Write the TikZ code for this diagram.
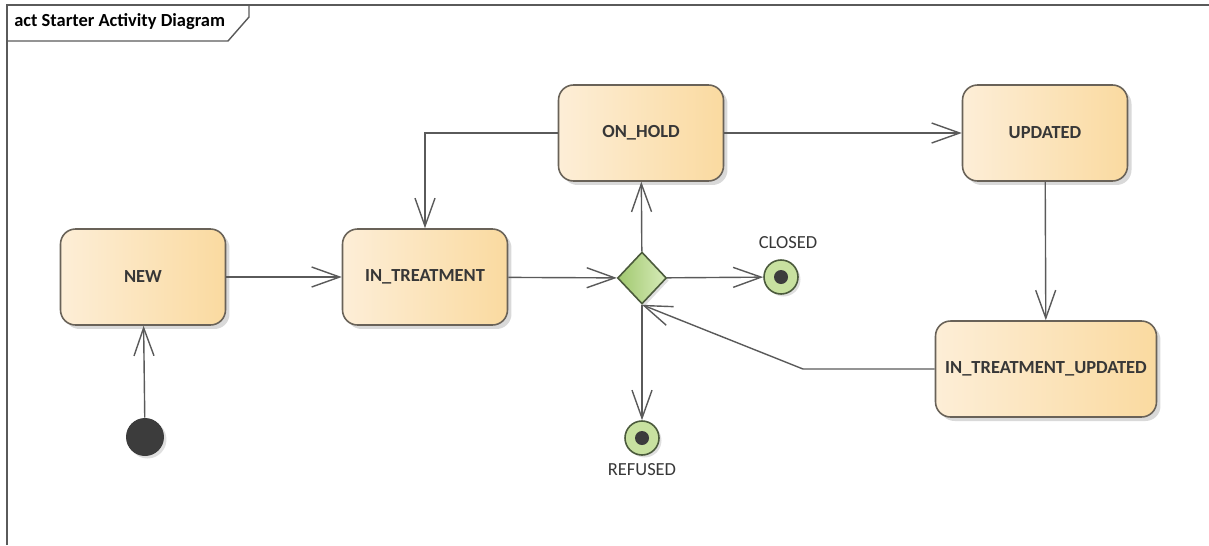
\documentclass[tikz,border=0pt]{standalone}
\usepackage{fontspec}
\setmainfont{Carlito}
\usetikzlibrary{arrows.meta,shapes.geometric,shadows}
\definecolor{linegray}{RGB}{90,90,90}
\definecolor{stateline}{RGB}{105,98,88}
\definecolor{stateleft}{RGB}{253,238,215}
\definecolor{stateright}{RGB}{250,218,160}
\definecolor{decleft}{RGB}{160,200,110}
\definecolor{decright}{RGB}{215,235,185}
\definecolor{decline}{RGB}{75,90,60}
\definecolor{finalfill}{RGB}{200,225,160}
\definecolor{dotgray}{RGB}{60,60,60}
\definecolor{labeltext}{RGB}{55,55,55}

\begin{document}
\begin{tikzpicture}[x=0.02cm,y=-0.02cm,
    statebox/.style={draw=stateline, line width=0.9pt, rounded corners=0.3cm,
        left color=stateleft, right color=stateright,
        minimum width=3.3cm, minimum height=1.92cm, inner sep=0pt,
        font=\bfseries\fontsize{10.5}{12}\selectfont, text=labeltext,
        drop shadow={shadow xshift=0.08cm, shadow yshift=-0.08cm, opacity=0.3}},
    decision/.style={diamond, draw=decline, line width=0.9pt,
        left color=decleft, right color=decright,
        minimum width=0.98cm, minimum height=1.04cm, inner sep=0pt,
        drop shadow={shadow xshift=0.05cm, shadow yshift=-0.05cm, opacity=0.25}},
    finalnode/.style={circle, draw=decline, line width=0.9pt, fill=finalfill,
        minimum size=0.68cm, inner sep=0pt,
        path picture={\fill[dotgray] (path picture bounding box.center) circle (0.14cm);},
        drop shadow={shadow xshift=0.05cm, shadow yshift=-0.05cm, opacity=0.25}},
    initnode/.style={circle, fill=dotgray, minimum size=0.76cm, inner sep=0pt,
        drop shadow={shadow xshift=0.05cm, shadow yshift=-0.05cm, opacity=0.25}},
    smalltext/.style={font=\fontsize{10.5}{12}\selectfont, text=labeltext, inner sep=0pt},
    flow/.style={draw=linegray, line width=0.8pt,
        -{Straight Barb[length=0.56cm, width=0.4cm]}}]
        \useasboundingbox (0,0) rectangle (1209,545);

        % 框架
        \draw[linegray, line width=1.1pt] (7,545) -- (7,5) -- (1209,5);
        \draw[linegray, line width=0.8pt] (7,41) -- (228,41) -- (249,17) -- (249,5);
        \node[anchor=west, font=\bfseries\fontsize{10.5}{12}\selectfont, text=black, inner sep=0pt] (title) at (14,22) {act Starter Activity Diagram};

        % 状态
        \node[statebox] (new) at (143,277) {NEW};
        \node[statebox] (intreat) at (425,277) {IN\_TREATMENT};
        \node[statebox] (onhold) at (641,133) {ON\_HOLD};
        \node[statebox] (updated) at (1045,133) {UPDATED};
        \node[statebox, minimum width=4.42cm] (intreatupd) at (1046,369) {IN\_TREATMENT\_UPDATED};

        % 判断、起点、终点
        \node[decision] (dec) at (642,278) {};
        \node[initnode] (start) at (145,437) {};
        \node[finalnode] (closed) at (781,277) {};
        \node[finalnode] (refused) at (642,438) {};
        \node[smalltext] (closedlabel) at (788,243) {CLOSED};
        \node[smalltext] (refusedlabel) at (642,470) {REFUSED};

        % 转移
        \coordinate (bend) at (803,369);
        \draw[flow] (start) -- (new);
        \draw[flow] (new) -- (intreat);
        \draw[flow] (intreat) -- (dec);
        \draw[flow] (dec) -- (onhold);
        \draw[flow] (onhold.west) -| (intreat.north);
        \draw[flow] (onhold) -- (updated);
        \draw[flow] (updated) -- (intreatupd);
        \draw[flow] (intreatupd.west) -- (bend) -- (dec.south);
        \draw[flow] (dec) -- (closed);
        \draw[flow] (dec) -- (refused);
    \end{tikzpicture}
\end{document}
